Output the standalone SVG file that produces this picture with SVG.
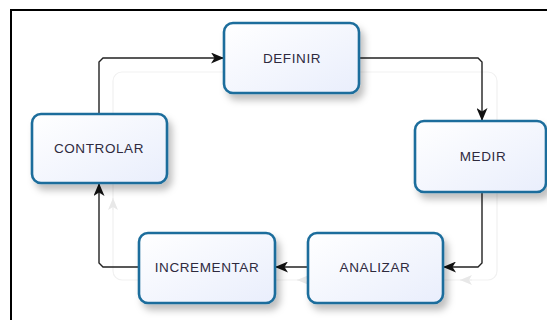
<svg xmlns="http://www.w3.org/2000/svg" width="547" height="320" viewBox="0 0 547 320">
  <defs>
    <linearGradient id="boxFill" x1="0" y1="0" x2="1" y2="1">
      <stop offset="0" stop-color="#ffffff"/>
      <stop offset="1" stop-color="#e9eefc"/>
    </linearGradient>
    <filter id="shadow" x="-20%" y="-20%" width="150%" height="160%">
      <feDropShadow dx="4" dy="6" stdDeviation="3.5" flood-color="#000000" flood-opacity="0.25"/>
    </filter>
    <marker id="arrow" viewBox="0 0 13 11" refX="13" refY="5.5" markerWidth="13" markerHeight="11" markerUnits="userSpaceOnUse" orient="auto">
      <path d="M0,0 L13,5.5 L0,11 L3.5,5.5 Z" fill="#111111"/>
    </marker>
    <marker id="ghostArrow" viewBox="0 0 12 10" refX="12" refY="5" markerWidth="12" markerHeight="10" markerUnits="userSpaceOnUse" orient="auto">
      <path d="M0,0 L12,5 L0,10 L3,5 Z" fill="#e8e8e8"/>
    </marker>
  </defs>
  <style>
    .box { fill: url(#boxFill); stroke: #1c6d9c; stroke-width: 2.6; filter: url(#shadow); }
    .label { font-family: "Liberation Sans", Arial, sans-serif; font-size: 13.5px; letter-spacing: 0.6px; fill: #2e2a3e; text-anchor: middle; dominant-baseline: central; }
    .conn { fill: none; stroke: #222222; stroke-width: 1.4; marker-end: url(#arrow); }
    .ghost { fill: none; stroke: #f1f1f1; stroke-width: 1.2; }
  </style>

  <rect width="547" height="320" fill="#ffffff"/>
  <!-- page frame -->
  <path d="M11,330 L11,10 L560,10" fill="none" stroke="#000000" stroke-width="2"/>

  <!-- faint background cycle -->
  <g id="ghost-cycle">
    <rect class="ghost" x="113" y="72" width="384" height="208" rx="9"/>
    <path class="ghost" d="M113,210 L113,198" marker-end="url(#ghostArrow)"/>
    <path class="ghost" d="M310,280 L297,280" marker-end="url(#ghostArrow)"/>
    <path class="ghost" d="M472,280 L460,280" marker-end="url(#ghostArrow)"/>
  </g>

  <!-- connectors -->
  <g id="connectors">
    <path class="conn" d="M99,114 L99,62 L103,58 L224,58"/>
    <path class="conn" d="M359,58 L478,58 L482,62 L482,121"/>
    <path class="conn" d="M482,192 L482,263 L478,267 L443,267"/>
    <path class="conn" d="M308,267 L275,267"/>
    <path class="conn" d="M139,267 L103,267 L99,263 L99,183"/>
  </g>

  <g id="definir">
    <rect class="box" x="224" y="23" width="135" height="70" rx="9"/>
    <text class="label" x="292" y="58">DEFINIR</text>
  </g>
  <g id="medir">
    <rect class="box" x="415" y="121" width="131" height="71" rx="9"/>
    <text class="label" x="483" y="156">MEDIR</text>
  </g>
  <g id="analizar">
    <rect class="box" x="308" y="233" width="135" height="70" rx="9"/>
    <text class="label" x="375" y="267">ANALIZAR</text>
  </g>
  <g id="incrementar">
    <rect class="box" x="139" y="233" width="136" height="70" rx="9"/>
    <text class="label" x="207" y="267">INCREMENTAR</text>
  </g>
  <g id="controlar">
    <rect class="box" x="32" y="114" width="135" height="69" rx="9"/>
    <text class="label" x="99" y="148">CONTROLAR</text>
  </g>
</svg>
